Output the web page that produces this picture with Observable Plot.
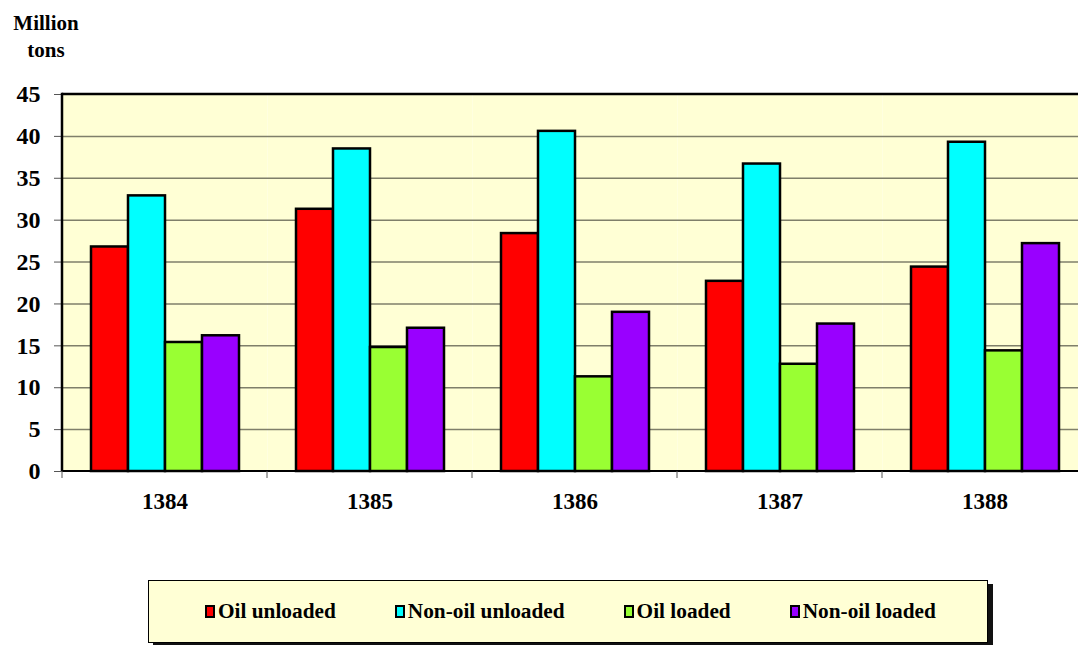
<!DOCTYPE html>
<html>
<head>
<meta charset="utf-8">
<script src="https://cdn.jsdelivr.net/npm/d3@7"></script>
<script src="https://cdn.jsdelivr.net/npm/@observablehq/plot@0.6"></script>
<style>
  html, body { margin: 0; padding: 0; background: #fff; overflow: hidden; }
  body { position: relative; width: 1078px; height: 645px; font-family: "Times New Roman", "Liberation Serif", serif; }
  #title { position: absolute; left: 0; top: 10px; width: 92px; text-align: center; font-weight: bold; font-size: 21px; line-height: 27px; color: #000; }
  #chart { position: absolute; left: 0; top: 0; }
  #legend { position: absolute; left: 148px; top: 580px; width: 840px; height: 63px; background: #ffffd5; border: 1.5px solid #000; box-shadow: 5px 4px 0 #111; display: flex; align-items: center; padding-left: 56px; box-sizing: border-box; gap: 59px; }
  .item { display: flex; align-items: center; font-weight: bold; font-size: 21.3px; color: #000; }
  .sw { width: 10px; height: 13px; border: 2px solid #000; margin-right: 3px; box-sizing: border-box; }
</style>
</head>
<body>
<div id="title">Million<br>tons</div>
<div id="chart"></div>
<div id="legend"></div>
<script>
const years = ["1384", "1385", "1386", "1387", "1388"];
const series = ["Oil unloaded", "Non-oil unloaded", "Oil loaded", "Non-oil loaded"];
const colors = ["#ff0000", "#00ffff", "#99ff33", "#9900ff"];
const oilUnloaded = [26.8, 31.3, 28.4, 22.7, 24.4];
const nonOilUnloaded = [32.9, 38.5, 40.6, 36.7, 39.3];
const oilLoaded = [15.4, 14.8, 11.3, 12.8, 14.4];
const nonOilLoaded = [16.2, 17.1, 19.0, 17.6, 27.2];
const yTicks = [0, 5, 10, 15, 20, 25, 30, 35, 40, 45];

const valuesBySeries = [oilUnloaded, nonOilUnloaded, oilLoaded, nonOilLoaded];
const data = [];
years.forEach((yr, i) => series.forEach((s, j) => data.push({year: yr, series: s, value: valuesBySeries[j][i]})));

const font = "'Times New Roman', 'Liberation Serif', serif";

const edges = Plot.frame({
  facet: "super",
  render(index, scales, values, dimensions, context) {
    const fx = scales.fx, y = scales.y;
    const bw = typeof fx.bandwidth === "function" ? fx.bandwidth() : fx.bandwidth;
    const x0 = fx(years[0]);
    const x1 = fx(years[years.length - 1]) + bw;
    const yTop = y(yTicks[yTicks.length - 1]);
    const yBot = y(0);
    const g = d3.create("svg:g").attr("fill", "none").attr("stroke", "#000");
    g.append("line").attr("x1", x0).attr("x2", x1).attr("y1", yTop).attr("y2", yTop).attr("stroke-width", 2.5);
    g.append("line").attr("x1", x0).attr("x2", x0).attr("y1", yTop - 1.25).attr("y2", yBot).attr("stroke-width", 2.5);
    g.append("line").attr("x1", x0).attr("x2", x1).attr("y1", yBot).attr("y2", yBot).attr("stroke-width", 2);
    for (const yr of years) {
      const b = fx(yr);
      g.append("line").attr("x1", b).attr("x2", b).attr("y1", yBot).attr("y2", yBot + 7).attr("stroke-width", 1).attr("stroke", "#555");
    }
    return g.node();
  }
});

const chart = Plot.plot({
  width: 1078,
  height: 530,
  marginTop: 94,
  marginLeft: 61,
  marginRight: -10,
  marginBottom: 59,
  style: {fontFamily: font, background: "transparent"},
  fx: {domain: years, paddingInner: 0, paddingOuter: 0, label: null, axis: null},
  x: {domain: series, paddingInner: 0, paddingOuter: 0.73, axis: null},
  y: {domain: [0, 45], label: null},
  color: {domain: series, range: colors},
  marks: [
    Plot.frame({fill: "#ffffd5", stroke: null}),
    Plot.gridY(yTicks.slice(1, -1), {stroke: "#7f7f6a", strokeOpacity: 1, strokeWidth: 1.5}),
    Plot.barY(data, {fx: "year", x: "series", y: "value", fill: "series", stroke: "#000", strokeWidth: 2.5}),
    Plot.axisY(yTicks, {tickSize: 8, tickPadding: 14, fontSize: 24, fontWeight: "bold", stroke: "#555", fill: "#000", label: null}),
    Plot.axisFx({anchor: "bottom", tickSize: 0, tickPadding: 21, fontSize: 23, fontWeight: "bold", label: null, fill: "#000"}),
    edges
  ]
});
document.getElementById("chart").appendChild(chart);

const legend = document.getElementById("legend");
series.forEach((s, j) => {
  const it = document.createElement("div");
  it.className = "item";
  const sw = document.createElement("div");
  sw.className = "sw";
  sw.style.background = colors[j];
  it.appendChild(sw);
  const t = document.createElement("span");
  t.textContent = s;
  it.appendChild(t);
  legend.appendChild(it);
});
</script>
</body>
</html>
